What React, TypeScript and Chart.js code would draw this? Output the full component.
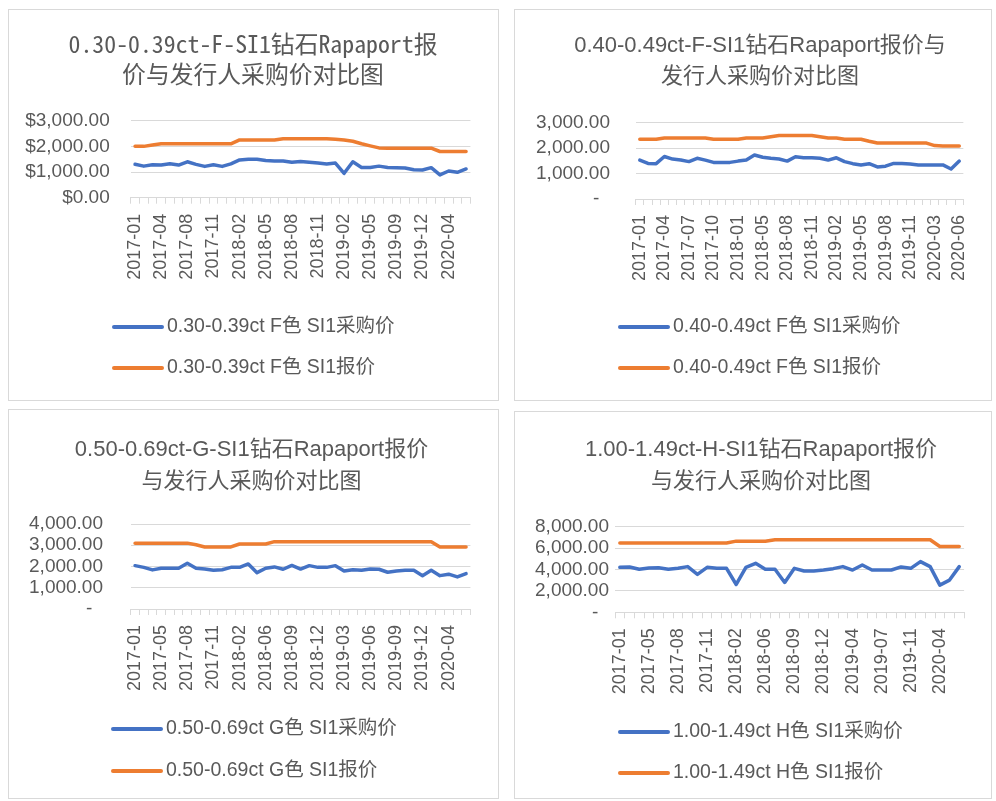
import React, { useEffect, useRef } from 'react';
import { Chart, registerables } from 'chart.js';

Chart.register(...registerables);

// ---------------- data ----------------
const p1Title = ['0.30-0.39ct-F-SI1钻石Rapaport报', '价与发行人采购价对比图'];
const p1Categories = ['2017-01','2017-02','2017-03','2017-04','2017-05','2017-07','2017-08','2017-09','2017-10','2017-11','2017-12','2018-01','2018-02','2018-03','2018-04','2018-05','2018-06','2018-07','2018-08','2018-09','2018-10','2018-11','2018-12','2019-01','2019-02','2019-03','2019-04','2019-05','2019-06','2019-08','2019-09','2019-10','2019-11','2019-12','2020-01','2020-03','2020-04','2020-05','2020-06'];
const p1Purchase = [1300,1230,1280,1270,1320,1270,1400,1300,1220,1280,1220,1320,1470,1500,1500,1450,1430,1430,1380,1410,1380,1350,1310,1350,950,1400,1180,1180,1230,1180,1170,1160,1090,1080,1170,890,1040,990,1120];
const p1Quote = [2000,2000,2050,2100,2100,2100,2100,2100,2100,2100,2100,2100,2250,2250,2250,2250,2250,2300,2300,2300,2300,2300,2300,2280,2250,2200,2100,2020,1940,1930,1930,1930,1930,1930,1930,1800,1800,1800,1800];
const p1Series = ['0.30-0.39ct F色 SI1采购价', '0.30-0.39ct F色 SI1报价'];
const p1YLabels = ['$0.00', '$1,000.00', '$2,000.00', '$3,000.00'];

const p2Title = ['0.40-0.49ct-F-SI1钻石Rapaport报价与', '发行人采购价对比图'];
const p2Categories = ['2017-01','2017-02','2017-03','2017-04','2017-05','2017-06','2017-07','2017-08','2017-09','2017-10','2017-11','2017-12','2018-01','2018-02','2018-04','2018-05','2018-06','2018-07','2018-08','2018-09','2018-10','2018-11','2018-12','2019-01','2019-02','2019-03','2019-04','2019-05','2019-06','2019-07','2019-08','2019-09','2019-10','2019-11','2019-12','2020-02','2020-03','2020-04','2020-05','2020-06'];
const p2Purchase = [1530,1400,1390,1670,1570,1530,1470,1600,1530,1440,1440,1440,1490,1530,1730,1640,1600,1570,1490,1660,1620,1620,1600,1530,1620,1470,1390,1340,1390,1260,1290,1400,1400,1380,1340,1340,1340,1340,1180,1490];
const p2Quote = [2350,2350,2350,2400,2400,2400,2400,2400,2400,2350,2350,2350,2350,2400,2400,2400,2450,2500,2500,2500,2500,2500,2450,2400,2400,2350,2350,2350,2270,2200,2200,2200,2200,2200,2200,2200,2100,2080,2080,2080];
const p2Series = ['0.40-0.49ct F色 SI1采购价', '0.40-0.49ct F色 SI1报价'];
const p2YLabels = ['-  ', '1,000.00', '2,000.00', '3,000.00'];

const p3Title = ['0.50-0.69ct-G-SI1钻石Rapaport报价', '与发行人采购价对比图'];
const p3Categories = ['2017-01','2017-02','2017-04','2017-05','2017-06','2017-07','2017-08','2017-09','2017-10','2017-11','2017-12','2018-01','2018-02','2018-03','2018-05','2018-06','2018-07','2018-08','2018-09','2018-10','2018-11','2018-12','2019-01','2019-02','2019-03','2019-04','2019-05','2019-06','2019-07','2019-08','2019-09','2019-10','2019-11','2019-12','2020-01','2020-03','2020-04','2020-05','2020-06'];
const p3Purchase = [2040,1960,1840,1920,1920,1920,2150,1920,1880,1820,1850,1960,1960,2120,1710,1920,1980,1870,2050,1880,2040,1960,1960,2040,1790,1850,1820,1880,1870,1730,1790,1820,1820,1570,1820,1570,1640,1510,1670];
const p3Quote = [3100,3100,3100,3100,3100,3100,3100,3020,2920,2920,2920,2920,3060,3060,3060,3060,3170,3170,3170,3170,3170,3170,3170,3170,3170,3170,3170,3170,3170,3170,3170,3170,3170,3170,3170,2920,2920,2920,2920];
const p3Series = ['0.50-0.69ct G色 SI1采购价', '0.50-0.69ct G色 SI1报价'];
const p3YLabels = ['-  ', '1,000.00', '2,000.00', '3,000.00', '4,000.00'];

const p4Title = ['1.00-1.49ct-H-SI1钻石Rapaport报价', '与发行人采购价对比图'];
const p4Categories = ['2017-01','2017-02','2017-04','2017-05','2017-06','2017-07','2017-08','2017-09','2017-10','2017-11','2017-12','2018-01','2018-02','2018-03','2018-05','2018-06','2018-07','2018-08','2018-09','2018-10','2018-11','2018-12','2019-01','2019-03','2019-04','2019-05','2019-06','2019-07','2019-08','2019-10','2019-11','2019-12','2020-03','2020-04','2020-05','2020-06'];
const p4Purchase = [4200,4240,4020,4140,4170,4020,4110,4270,3540,4200,4110,4110,2600,4200,4580,4020,4020,2790,4110,3860,3860,3950,4080,4270,3950,4420,3950,3950,3950,4240,4110,4740,4270,2540,3010,4270];
const p4Quote = [6480,6480,6480,6480,6480,6480,6480,6480,6480,6480,6480,6480,6650,6650,6650,6650,6780,6780,6780,6780,6780,6780,6780,6780,6780,6780,6780,6780,6780,6780,6780,6780,6780,6150,6150,6150];
const p4Series = ['1.00-1.49ct H色 SI1采购价', '1.00-1.49ct H色 SI1报价'];
const p4YLabels = ['-  ', '2,000.00', '4,000.00', '6,000.00', '8,000.00'];

// ---------------- styles ----------------
const BLUE = '#4472C4';
const ORANGE = '#ED7D31';
const TEXT = '#595959';
const GRID = '#d9d9d9';
const SANS = "'Liberation Sans', 'Noto Sans CJK SC', sans-serif";
const MONO = "'Noto Sans Mono CJK SC', 'Liberation Mono', 'Noto Sans CJK SC', monospace";

const stackedLegend = {
  id: 'stackedLegend',
  afterLayout(chart: any, _args: any, opts: any) {
    const t = chart.titleBlock;
    if (t && opts.titleShift) {
      t.left += opts.titleShift;
      t.right += opts.titleShift;
    }
  },
  afterDraw(chart: any, _args: any, opts: any) {
    const ctx = chart.ctx;
    chart.data.datasets.forEach((ds: any, i: number) => {
      const y = opts.y + i * opts.gap;
      ctx.save();
      ctx.strokeStyle = ds.borderColor;
      ctx.lineWidth = 4;
      ctx.lineCap = 'round';
      ctx.beginPath();
      ctx.moveTo(opts.x, y);
      ctx.lineTo(opts.x + 48, y);
      ctx.stroke();
      ctx.fillStyle = TEXT;
      ctx.font = `19.5px ${SANS}`;
      ctx.textBaseline = 'middle';
      ctx.textAlign = 'left';
      ctx.fillText(ds.label, opts.x + 53, y);
      ctx.restore();
    });
  },
};

type Spec = {
  title: string[];
  categories: string[];
  purchase: number[];
  quote: number[];
  series: string[];
  yLabels: string[];
  yMax: number;
  yStep: number;
  box: { left: number; top: number; width: number; height: number };
  area: { left: number; right: number; top: number; bottom: number };
  yPad: number;
  titleFamily: string;
  titleSize: number;
  titleLH: number;
  titleTop: number;
  legend: { x: number; y: number; gap: number; titleShift: number };
};

const specs: Spec[] = [
  {
    title: p1Title, categories: p1Categories, purchase: p1Purchase, quote: p1Quote, series: p1Series,
    yLabels: p1YLabels, yMax: 3000, yStep: 1000,
    box: { left: 0, top: 1, width: 491, height: 392 },
    area: { left: 121.7, right: 463, top: 110.7, bottom: 187.7 },
    yPad: 21, titleFamily: MONO, titleSize: 23.8, titleLH: 30, titleTop: 18.5,
    legend: { x: 105, y: 317, gap: 41, titleShift: 12.5 },
  },
  {
    title: p2Title, categories: p2Categories, purchase: p2Purchase, quote: p2Quote, series: p2Series,
    yLabels: p2YLabels, yMax: 3000, yStep: 1000,
    box: { left: 506, top: 1, width: 478, height: 392 },
    area: { left: 120.7, right: 465, top: 112.7, bottom: 189 },
    yPad: 25.7, titleFamily: SANS, titleSize: 22, titleLH: 31, titleTop: 20.5,
    legend: { x: 105, y: 317, gap: 41, titleShift: 12.5 },
  },
  {
    title: p3Title, categories: p3Categories, purchase: p3Purchase, quote: p3Quote, series: p3Series,
    yLabels: p3YLabels, yMax: 4000, yStep: 1000,
    box: { left: 0, top: 401, width: 491, height: 390 },
    area: { left: 121.7, right: 463, top: 114, bottom: 199 },
    yPad: 27.7, titleFamily: SANS, titleSize: 22, titleLH: 32, titleTop: 24,
    legend: { x: 104, y: 319, gap: 42, titleShift: 11 },
  },
  {
    title: p4Title, categories: p4Categories, purchase: p4Purchase, quote: p4Quote, series: p4Series,
    yLabels: p4YLabels, yMax: 8000, yStep: 2000,
    box: { left: 506, top: 403, width: 478, height: 388 },
    area: { left: 100, right: 465, top: 114.7, bottom: 200.3 },
    yPad: 6, titleFamily: SANS, titleSize: 22, titleLH: 32, titleTop: 22,
    legend: { x: 105, y: 320, gap: 41, titleShift: 13.5 },
  },
];

function Panel({ spec }: { spec: Spec }) {
  const ref = useRef<HTMLCanvasElement>(null);
  const W = spec.box.width - 2;
  const H = spec.box.height - 2;
  useEffect(() => {
    const a = spec.area;
    const lineDs = (label: string, data: number[], color: string) => ({
      label, data, borderColor: color, backgroundColor: color, borderWidth: 3.5,
      pointRadius: 0, tension: 0, borderJoinStyle: 'round', borderCapStyle: 'round',
    });
    const chart = new Chart(ref.current as HTMLCanvasElement, {
      type: 'line',
      data: {
        labels: spec.categories,
        datasets: [
          lineDs(spec.series[0], spec.purchase, BLUE),
          lineDs(spec.series[1], spec.quote, ORANGE),
        ] as any,
      },
      options: {
        responsive: false,
        animation: false,
        devicePixelRatio: 1,
        layout: { padding: { left: 0, top: 0, right: W - a.right, bottom: 0 } },
        plugins: {
          legend: { display: false },
          tooltip: { enabled: false },
          title: {
            display: true,
            text: spec.title,
            color: TEXT,
            font: { family: spec.titleFamily, size: spec.titleSize, weight: 'normal', lineHeight: spec.titleLH / spec.titleSize },
            padding: { top: spec.titleTop, bottom: a.top - spec.titleTop - spec.title.length * spec.titleLH },
          },
          stackedLegend: spec.legend,
        } as any,
        scales: {
          x: {
            type: 'category',
            offset: true,
            grid: { offset: true, drawOnChartArea: false, drawTicks: true, tickLength: 6, color: GRID },
            border: { display: true, color: GRID },
            ticks: {
              autoSkip: false, minRotation: 90, maxRotation: 90, padding: 10,
              color: TEXT, font: { family: SANS, size: 18 },
              callback: (_v: any, i: number) => (i % 3 === 0 ? spec.categories[i] : ''),
            },
            afterFit: (s: any) => { s.height = H - a.bottom; },
          },
          y: {
            min: 0, max: spec.yMax,
            grid: { color: GRID, drawTicks: false },
            border: { display: false },
            ticks: {
              autoSkip: false,
              stepSize: spec.yStep, padding: spec.yPad, color: TEXT, font: { family: SANS, size: 19 },
              callback: (_v: any, i: number) => spec.yLabels[i],
            },
            afterFit: (s: any) => { s.width = a.left; },
          },
        } as any,
      },
      plugins: [stackedLegend as any],
    });
    return () => chart.destroy();
  }, []);
  return (
    <div style={{ position: 'absolute', left: spec.box.left, top: spec.box.top, width: spec.box.width, height: spec.box.height, border: `1px solid ${GRID}`, boxSizing: 'border-box', background: '#fff' }}>
      <canvas ref={ref} width={W} height={H} style={{ display: 'block', width: W, height: H }} />
    </div>
  );
}

export default function App() {
  return (
    <div style={{ position: 'fixed', left: 8, top: 8, width: 984, height: 792 }}>
      {specs.map((s, i) => <Panel key={i} spec={s} />)}
    </div>
  );
}
